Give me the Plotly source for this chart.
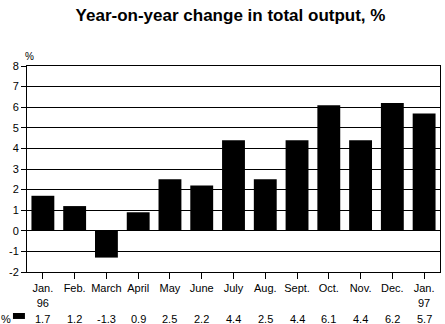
import plotly.graph_objects as go

months = ["Jan.<br>96", "Feb.", "March", "April", "May", "June", "July",
          "Aug.", "Sept.", "Oct.", "Nov.", "Dec.", "Jan.<br>97"]
values = [1.7, 1.2, -1.3, 0.9, 2.5, 2.2, 4.4, 2.5, 4.4, 6.1, 4.4, 6.2, 5.7]
value_text = ["1.7", "1.2", "-1.3", "0.9", "2.5", "2.2", "4.4", "2.5", "4.4", "6.1", "4.4", "6.2", "5.7"]
y_ticks = list(range(-2, 9))
y_tick_text = [str(v) for v in y_ticks]

font = "Liberation Sans, Arial, sans-serif"
idx = list(range(len(months)))

fig = go.Figure()
fig.add_trace(go.Bar(x=idx, y=values, marker=dict(color="black", line=dict(width=0)),
                     width=0.72, showlegend=False))

# value row under the category labels
annotations = [dict(x=i, y=0, xref="x", yref="paper", yshift=-47, yanchor="middle",
                    text=t, showarrow=False, font=dict(family=font, size=11, color="black"))
               for i, t in zip(idx, value_text)]
annotations.append(dict(x=0, y=0, xref="paper", yref="paper", xshift=-28, yshift=-47,
                        xanchor="left", yanchor="middle", text="%", showarrow=False,
                        font=dict(family=font, size=11, color="black")))
annotations.append(dict(x=0, y=1, xref="paper", yref="paper", xshift=-4, yshift=2,
                        xanchor="left", yanchor="bottom", text="%", showarrow=False,
                        font=dict(family=font, size=10, color="black")))

fig.update_layout(
    width=445, height=324,
    margin=dict(l=27, r=5, t=66, b=52),
    paper_bgcolor="white", plot_bgcolor="white",
    title=dict(text="<b>Year-on-year change in total output, %</b>", x=0.518, xanchor="center",
               y=0.953, yanchor="middle",
               font=dict(family=font, size=17, color="black")),
    font=dict(family=font, size=11, color="black"),
    annotations=annotations,
    shapes=[dict(type="rect", xref="paper", yref="paper", x0=-0.034, x1=-0.005,
                 y0=-0.228, y1=-0.199, fillcolor="black", line=dict(width=0))],
    bargap=0.28,
)
fig.update_xaxes(range=[-0.5, 12.5], tickvals=idx, ticktext=months, ticks="outside",
                 ticklen=6, tickcolor="black", showline=True, linecolor="black",
                 mirror=True, showgrid=False, zeroline=False, tickfont=dict(size=11))
fig.update_yaxes(range=[-2, 8], tickvals=y_ticks, ticktext=y_tick_text, ticks="outside",
                 ticklen=5, tickcolor="black", showline=True, linecolor="black", mirror=True,
                 showgrid=True, gridcolor="black", gridwidth=1, zeroline=True,
                 zerolinecolor="black", zerolinewidth=1, tickfont=dict(size=11))

fig.write_html("out.html")
